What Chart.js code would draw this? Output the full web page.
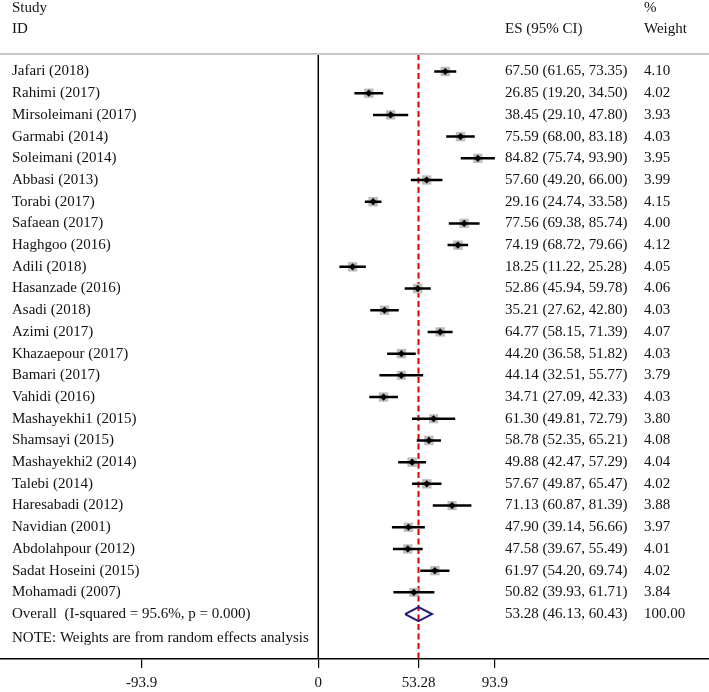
<!DOCTYPE html>
<html>
<head>
<meta charset="utf-8">
<script src="https://cdn.jsdelivr.net/npm/chart.js@4.4.1/dist/chart.umd.min.js"></script>
<style>
  body { margin: 0; background: #fff; }
  #wrap { width: 709px; height: 692px; position: relative; }
</style>
</head>
<body>
<div id="wrap"><canvas id="forest"></canvas></div>
<script>
// study data
const studies = ["Jafari (2018)", "Rahimi (2017)", "Mirsoleimani (2017)", "Garmabi (2014)", "Soleimani (2014)",
  "Abbasi (2013)", "Torabi (2017)", "Safaean (2017)", "Haghgoo (2016)", "Adili (2018)", "Hasanzade (2016)",
  "Asadi (2018)", "Azimi (2017)", "Khazaepour (2017)", "Bamari (2017)", "Vahidi (2016)", "Mashayekhi1 (2015)",
  "Shamsayi (2015)", "Mashayekhi2 (2014)", "Talebi (2014)", "Haresabadi (2012)", "Navidian (2001)",
  "Abdolahpour (2012)", "Sadat Hoseini (2015)", "Mohamadi (2007)"];
const es = [67.50, 26.85, 38.45, 75.59, 84.82, 57.60, 29.16, 77.56, 74.19, 18.25, 52.86, 35.21, 64.77, 44.20,
  44.14, 34.71, 61.30, 58.78, 49.88, 57.67, 71.13, 47.90, 47.58, 61.97, 50.82];
const lower = [61.65, 19.20, 29.10, 68.00, 75.74, 49.20, 24.74, 69.38, 68.72, 11.22, 45.94, 27.62, 58.15, 36.58,
  32.51, 27.09, 49.81, 52.35, 42.47, 49.87, 60.87, 39.14, 39.67, 54.20, 39.93];
const upper = [73.35, 34.50, 47.80, 83.18, 93.90, 66.00, 33.58, 85.74, 79.66, 25.28, 59.78, 42.80, 71.39, 51.82,
  55.77, 42.33, 72.79, 65.21, 57.29, 65.47, 81.39, 56.66, 55.49, 69.74, 61.71];
const weights = [4.10, 4.02, 3.93, 4.03, 3.95, 3.99, 4.15, 4.00, 4.12, 4.05, 4.06, 4.03, 4.07, 4.03, 3.79, 4.03,
  3.80, 4.08, 4.04, 4.02, 3.88, 3.97, 4.01, 4.02, 3.84];
const overall = { label: "Overall  (I-squared = 95.6%, p = 0.000)", es: 53.28, lo: 46.13, hi: 60.43, weight: 100.00 };
const tickVals = [-93.9, 0, 53.28, 93.9];

const FONT = "'Liberation Serif', 'Times New Roman', serif";
const Y_MIN = 0.194, Y_MAX = 28.07;
const overallRow = studies.length + 1;

const boxes = es.map((v, i) => ({ x: v, y: i + 1 }));
const ciSegs = [];
es.forEach((v, i) => {
  ciSegs.push({ x: lower[i], y: i + 1 }, { x: upper[i], y: i + 1 }, { x: null, y: null });
});
const dh = 0.32;
const diamond = [
  { x: overall.lo, y: overallRow }, { x: overall.es, y: overallRow - dh },
  { x: overall.hi, y: overallRow }, { x: overall.es, y: overallRow + dh },
  { x: overall.lo, y: overallRow }
];

const fmt = v => v.toFixed(2);

const textPlugin = {
  id: 'forestText',
  afterDraw(chart) {
    const ctx = chart.ctx;
    const ys = chart.scales.y;
    const area = chart.chartArea;
    ctx.save();
    // grey header rule
    ctx.strokeStyle = '#c8c8c8';
    ctx.lineWidth = 2;
    ctx.beginPath();
    ctx.moveTo(0, area.top);
    ctx.lineTo(chart.width, area.top);
    ctx.stroke();

    ctx.fillStyle = '#111';
    ctx.font = '15px ' + FONT;
    ctx.textBaseline = 'middle';
    ctx.textAlign = 'left';
    ctx.fillText('Study', 12, 8);
    ctx.fillText('ID', 12, 29);
    ctx.fillText('ES (95% CI)', 505, 29);
    ctx.fillText('%', 644, 8);
    ctx.fillText('Weight', 644, 29);

    studies.forEach((s, i) => {
      const y = ys.getPixelForValue(i + 1);
      ctx.fillText(s, 12, y);
      ctx.fillText(`${fmt(es[i])} (${fmt(lower[i])}, ${fmt(upper[i])})`, 505, y);
      ctx.fillText(fmt(weights[i]), 644, y);
    });
    const yo = ys.getPixelForValue(overallRow);
    ctx.fillText(overall.label, 12, yo);
    ctx.fillText(`${fmt(overall.es)} (${fmt(overall.lo)}, ${fmt(overall.hi)})`, 505, yo);
    ctx.fillText(fmt(overall.weight), 644, yo);
    ctx.fillText('NOTE: Weights are from random effects analysis', 12, ys.getPixelForValue(overallRow + 1.12));
    ctx.restore();
  }
};

new Chart(document.getElementById('forest'), {
  type: 'scatter',
  data: {
    datasets: [
      { // point estimates
        data: boxes, pointStyle: 'rectRot', pointRadius: 3.6, backgroundColor: '#000',
        borderWidth: 0, order: 0
      },
      { // overall diamond
        data: diamond, showLine: true, pointRadius: 0, borderColor: '#1c1c7c',
        borderWidth: 2, fill: false, order: 1
      },
      { // confidence intervals
        data: ciSegs, showLine: true, pointRadius: 0, borderColor: '#000',
        borderWidth: 2.5, spanGaps: false, order: 2
      },
      { // weight boxes
        data: boxes, pointStyle: 'rect', pointRadius: weights.map(w => 6.6 * Math.sqrt(w / 4)),
        backgroundColor: '#bcbcbc', borderWidth: 0, order: 3
      },
      { // overall effect line
        data: [{ x: overall.es, y: Y_MIN }, { x: overall.es, y: Y_MAX }], showLine: true,
        pointRadius: 0, borderColor: '#e00000', borderWidth: 2, borderDash: [6, 3.5], order: 4
      },
      { // null line
        data: [{ x: 0, y: Y_MIN }, { x: 0, y: Y_MAX }], showLine: true,
        pointRadius: 0, borderColor: '#000', borderWidth: 1.5, order: 5
      }
    ]
  },
  options: {
    responsive: true,
    maintainAspectRatio: false,
    animation: false,
    layout: { autoPadding: false, padding: { top: 54, left: 0, right: 0, bottom: 0 } },
    plugins: { legend: { display: false }, tooltip: { enabled: false } },
    scales: {
      x: {
        type: 'linear', min: -169.2, max: 207.7,
        afterBuildTicks: scale => { scale.ticks = tickVals.map(v => ({ value: v })); },
        afterFit: scale => { scale.height = 33; },
        grid: { drawOnChartArea: false, drawTicks: true, tickLength: 9, color: '#000', lineWidth: 1.2 },
        border: { display: true, color: '#000', width: 1.5 },
        ticks: {
          autoSkip: false, maxRotation: 0, padding: 6, color: '#111',
          font: { family: FONT, size: 15 },
          callback: v => String(v)
        }
      },
      y: { type: 'linear', reverse: true, min: Y_MIN, max: Y_MAX, display: false }
    }
  },
  plugins: [textPlugin]
});
</script>
</body>
</html>
